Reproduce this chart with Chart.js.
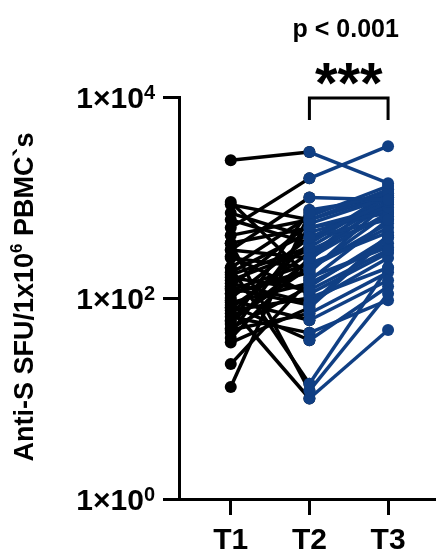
<!DOCTYPE html>
<html>
<head>
<meta charset="utf-8">
<script src="https://cdn.jsdelivr.net/npm/chart.js@4"></script>
<style>
  body { margin: 0; background: #fff; }
  canvas { display: block; }
</style>
</head>
<body>
<canvas id="sfuChart" width="440" height="551"></canvas>
<script>
// time points and paired values per subject
const categories = ["T1", "T2", "T3"];
const t1 = [2350, 500, 300, 13, 22, 36, 850, 700, 600, 200, 350, 80, 350, 300, 250, 200, 180, 160, 150, 140,
  130, 120, 110, 100, 95, 90, 85, 80, 75, 70, 65, 60, 55, 50, 48, 45, 900, 40, 170, 110, 260, 58, 420, 125];
const t2 = [2830, 1550, 1000, 700, 150, 80, 600, 400, 350, 14, 12, 10, 500, 250, 200, 650, 450, 120, 300, 90,
  550, 220, 180, 400, 60, 140, 38, 280, 100, 350, 45, 200, 750, 130, 70, 500, 160, 250, 320, 190, 110, 240, 600, 85];
const t3 = [1390, 3240, 950, 1100, 600, 400, 1200, 900, 1000, 200, 110, 48, 800, 700, 500, 1300, 750, 300, 650, 250,
  1000, 450, 900, 600, 150, 350, 130, 850, 200, 1100, 95, 550, 1000, 400, 180, 700, 320, 1200, 900, 700, 280, 950, 1050, 420];
const yTicks = [1, 100, 10000];
const pLabel = "p < 0.001";
const starLabel = "***";

const BLUE = "#103f84";
const FONT = '"Liberation Sans", Arial, sans-serif';

const xPos = (name) => categories.indexOf(name) + 1;

// blue segments first so they are drawn on top
const datasets = [];
t2.forEach((v, i) => {
  datasets.push({
    data: [{ x: xPos("T2"), y: v }, { x: xPos("T3"), y: t3[i] }],
    borderColor: BLUE, backgroundColor: BLUE, pointBackgroundColor: BLUE,
    pointBorderColor: BLUE,
  });
});
t1.forEach((v, i) => {
  datasets.push({
    data: [{ x: xPos("T1"), y: v }, { x: xPos("T2"), y: t2[i] }],
    borderColor: "#000", backgroundColor: "#000", pointBackgroundColor: "#000",
    pointBorderColor: "#000",
  });
});

function topAt(ctx, text, top) {
  const m = ctx.measureText(text);
  return top + m.actualBoundingBoxAscent;
}

const annotations = {
  id: "annotations",
  afterDraw(chart) {
    const ctx = chart.ctx;
    const ys = chart.scales.y, xs = chart.scales.x;
    ctx.save();
    ctx.fillStyle = "#000";
    ctx.strokeStyle = "#000";

    // y tick labels 1x10^n
    yTicks.forEach((v) => {
      const py = ys.getPixelForValue(v);
      const exp = String(Math.round(Math.log10(v)));
      ctx.font = "bold 20px " + FONT;
      const ew = ctx.measureText(exp).width;
      ctx.font = "bold 30px " + FONT;
      const base = "1×10";
      const bw = ctx.measureText(base).width;
      const right = 155;
      ctx.textAlign = "left";
      ctx.textBaseline = "alphabetic";
      ctx.fillText(base, right - ew - bw, topAt(ctx, "10", py - 9));
      ctx.font = "bold 20px " + FONT;
      ctx.fillText(exp, right - ew, topAt(ctx, exp, py - 12));
    });

    // y axis title, rotated
    ctx.save();
    ctx.translate(33, 297);
    ctx.rotate(-Math.PI / 2);
    const parts = [["Anti-S SFU/1x10", 27, 0], ["6", 17, -11], [" PBMC`s", 27, 0]];
    let total = 0;
    parts.forEach((p) => { ctx.font = "bold " + p[1] + "px " + FONT; total += ctx.measureText(p[0]).width; });
    let cx = -total / 2;
    ctx.textAlign = "left";
    ctx.textBaseline = "alphabetic";
    parts.forEach((p) => {
      ctx.font = "bold " + p[1] + "px " + FONT;
      ctx.fillText(p[0], cx, p[2]);
      cx += ctx.measureText(p[0]).width;
    });
    ctx.restore();

    // significance bracket between T2 and T3
    const x2 = xs.getPixelForValue(xPos("T2"));
    const x3 = xs.getPixelForValue(xPos("T3"));
    const by = 98;
    ctx.lineWidth = 3;
    ctx.beginPath();
    ctx.moveTo(x2, by + 22);
    ctx.lineTo(x2, by);
    ctx.lineTo(x3, by);
    ctx.lineTo(x3, by + 22);
    ctx.stroke();

    const mid = (x2 + x3) / 2;
    ctx.textAlign = "center";
    ctx.textBaseline = "alphabetic";
    ctx.font = "bold 58px " + FONT;
    ctx.fillText(starLabel, mid, topAt(ctx, starLabel, 63));
    ctx.font = "bold 25px " + FONT;
    ctx.fillText(pLabel, mid - 3, topAt(ctx, "0.001", 19));
    ctx.restore();
  },
};

new Chart(document.getElementById("sfuChart").getContext("2d"), {
  type: "line",
  data: { datasets: datasets },
  options: {
    responsive: false,
    animation: false,
    layout: { padding: { top: 97, right: 0, left: 0, bottom: 0 } },
    plugins: { legend: { display: false }, tooltip: { enabled: false } },
    elements: {
      line: { borderWidth: 3.5, tension: 0 },
      point: { radius: 6, borderWidth: 0 },
    },
    scales: {
      x: {
        type: "linear",
        min: 0.342,
        max: 3.584,
        afterBuildTicks: (axis) => { axis.ticks = categories.map((c, i) => ({ value: i + 1 })); },
        afterFit: (axis) => { axis.height = 52; },
        ticks: {
          color: "#000",
          font: { family: FONT, size: 30, weight: "bold" },
          padding: 8,
          maxRotation: 0,
          callback: (v) => categories[v - 1] || "",
        },
        grid: { drawOnChartArea: false, drawTicks: true, tickLength: 16, color: "#000", lineWidth: 3 },
        border: { display: true, color: "#000", width: 3 },
      },
      y: {
        type: "logarithmic",
        min: 1,
        max: 10000,
        afterBuildTicks: (axis) => { axis.ticks = yTicks.map((v) => ({ value: v })); },
        afterFit: (axis) => { axis.width = 179; },
        ticks: { callback: () => "", padding: 0 },
        grid: { drawOnChartArea: false, drawTicks: true, tickLength: 16, color: "#000", lineWidth: 3 },
        border: { display: true, color: "#000", width: 3 },
      },
    },
  },
  plugins: [annotations],
});
</script>
</body>
</html>
